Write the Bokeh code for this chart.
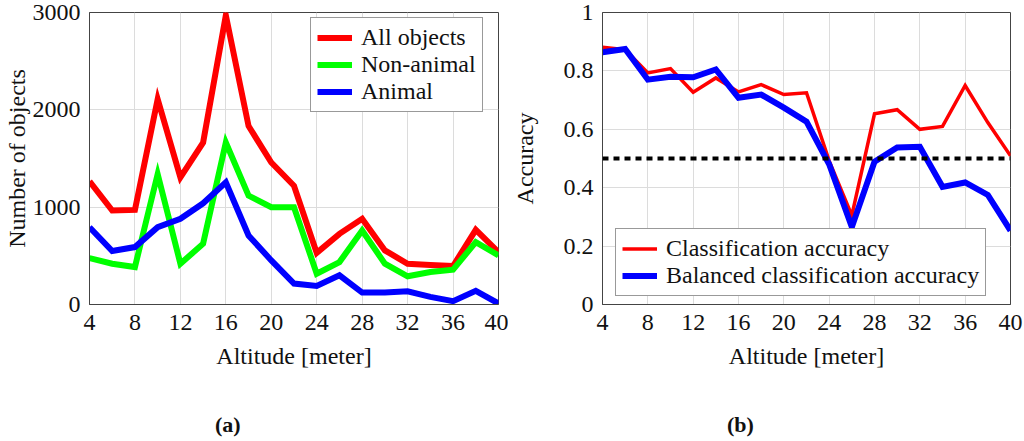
from bokeh.plotting import figure
from bokeh.layouts import row
from bokeh.models import Range1d, Legend, LegendItem, LinearAxis, FixedTicker, Span
from bokeh.embed import file_html
from bokeh.resources import INLINE

# ---------------- data ----------------
altitude = [4, 6, 8, 10, 12, 14, 16, 18, 20, 22, 24, 26, 28, 30, 32, 34, 36, 38, 40]
all_objects = [1265, 965, 972, 2110, 1306, 1664, 2970, 1834, 1459, 1220, 530,
               726, 880, 556, 419, 405, 395, 767, 538]
non_animal = [477, 419, 385, 1340, 419, 624, 1664, 1118, 999, 999, 317,
              436, 760, 419, 290, 334, 358, 641, 505]
animal = [794, 549, 590, 794, 880, 1040, 1255, 709, 453, 215, 191,
          300, 123, 123, 136, 78, 34, 140, 10]
class_acc = [0.881, 0.873, 0.793, 0.808, 0.727, 0.776, 0.728, 0.753, 0.719, 0.725,
             0.492, 0.305, 0.653, 0.667, 0.600, 0.610, 0.750, 0.623, 0.509]
balanced_acc = [0.864, 0.875, 0.770, 0.780, 0.778, 0.805, 0.708, 0.719, 0.674, 0.626,
                0.480, 0.265, 0.489, 0.538, 0.540, 0.403, 0.418, 0.375, 0.253]
chance_level = 0.5
x_ticks = [4, 8, 12, 16, 20, 24, 28, 32, 36, 40]
count_ticks = [0, 1000, 2000, 3000]
acc_ticks = [0, 0.2, 0.4, 0.6, 0.8, 1]
acc_tick_labels = ["0", "0.2", "0.4", "0.6", "0.8", "1"]

FONT = "Liberation Serif"
FS = "24px"
TAG_POS = 0.338  # horizontal position of the sub-caption, as a fraction of the frame


def style(p, xlabel, ylabel, yticks, ylabel_standoff, tag):
    p.outline_line_color = "#444444"
    p.outline_line_width = 1
    for ax in (p.xaxis[0], p.yaxis[0]):
        ax.major_label_text_font = FONT
        ax.major_label_text_font_size = FS
        ax.major_label_text_color = "#111111"
        ax.axis_label_text_font = FONT
        ax.axis_label_text_font_size = FS
        ax.axis_label_text_font_style = "normal"
        ax.axis_label_text_color = "#111111"
        ax.major_tick_in = 0
        ax.major_tick_out = 0
        ax.minor_tick_in = 0
        ax.minor_tick_out = 0
        ax.axis_line_color = "#444444"
    p.xaxis[0].ticker = FixedTicker(ticks=x_ticks)
    p.yaxis[0].ticker = FixedTicker(ticks=yticks)
    p.xaxis[0].axis_label = xlabel
    p.yaxis[0].axis_label = ylabel
    p.xaxis[0].major_label_standoff = 10
    p.xaxis[0].axis_label_standoff = 10
    p.yaxis[0].major_label_standoff = 9
    p.yaxis[0].axis_label_standoff = ylabel_standoff
    p.xgrid[0].ticker = FixedTicker(ticks=x_ticks)
    p.ygrid[0].ticker = FixedTicker(ticks=yticks)
    p.grid.grid_line_color = "#dcdcdc"
    p.grid.grid_line_width = 1
    # sub-caption "(a)" / "(b)" as a tick label of a bare extra axis
    p.extra_x_ranges = {"tag": Range1d(0, 1)}
    tag_axis = LinearAxis(x_range_name="tag", ticker=FixedTicker(ticks=[TAG_POS]),
                          major_label_overrides={TAG_POS: tag},
                          major_label_text_font=FONT, major_label_text_font_size="22px",
                          major_label_text_font_style="bold", major_label_text_color="#111111",
                          major_label_standoff=40, axis_line_color=None,
                          major_tick_in=0, major_tick_out=0, minor_tick_in=0, minor_tick_out=0)
    p.add_layout(tag_axis, "below")


def make_legend(items, loc):
    lg = Legend(items=items, location=loc, orientation="vertical",
                label_text_font=FONT, label_text_font_size=FS, label_text_color="#111111",
                glyph_width=35, glyph_height=27, label_height=27, label_standoff=9,
                spacing=0, padding=6, margin=0,
                border_line_color="#333333", border_line_width=1,
                background_fill_color="white", background_fill_alpha=1.0)
    return lg


H = 441
TOP = 12
BOTTOM = 137

# ---------------- left panel ----------------
p1 = figure(width=508, height=H, output_backend="svg", toolbar_location=None,
            x_range=Range1d(4, 40), y_range=Range1d(0, 3000),
            min_border_left=87, min_border_right=10, min_border_top=TOP, min_border_bottom=BOTTOM)
r_all = p1.line(altitude, all_objects, line_color="#ff0000", line_width=6, line_join="miter")
r_non = p1.line(altitude, non_animal, line_color="#00ff00", line_width=6, line_join="miter")
r_ani = p1.line(altitude, animal, line_color="#0000ff", line_width=6, line_join="miter")
style(p1, "Altitude [meter]", "Number of objects", count_ticks, 0, "(a)")
lg1 = make_legend([LegendItem(label="All objects", renderers=[r_all]),
                   LegendItem(label="Non-animal", renderers=[r_non]),
                   LegendItem(label="Animal", renderers=[r_ani])], (221, 192))
p1.add_layout(lg1)

# ---------------- right panel ----------------
p2 = figure(width=516, height=H, output_backend="svg", toolbar_location=None,
            x_range=Range1d(4, 40), y_range=Range1d(0, 1),
            min_border_left=90, min_border_right=14, min_border_top=TOP, min_border_bottom=BOTTOM)
p2.add_layout(Span(location=chance_level, dimension="width", line_color="black",
                   line_width=4, line_dash="6 5"))
r_cls = p2.line(altitude, class_acc, line_color="#ff0000", line_width=3.5, line_join="miter")
r_bal = p2.line(altitude, balanced_acc, line_color="#0000ff", line_width=6, line_join="miter")
style(p2, "Altitude [meter]", "Accuracy", acc_ticks, 23, "(b)")
p2.yaxis[0].major_label_overrides = {t: s for t, s in zip(acc_ticks, acc_tick_labels)}
lg2 = make_legend([LegendItem(label="Classification accuracy", renderers=[r_cls]),
                   LegendItem(label="Balanced classification accuracy", renderers=[r_bal])],
                  (13, 8))
p2.add_layout(lg2)

layout = row(p1, p2)
open("out.html", "w").write(file_html(layout, INLINE))
